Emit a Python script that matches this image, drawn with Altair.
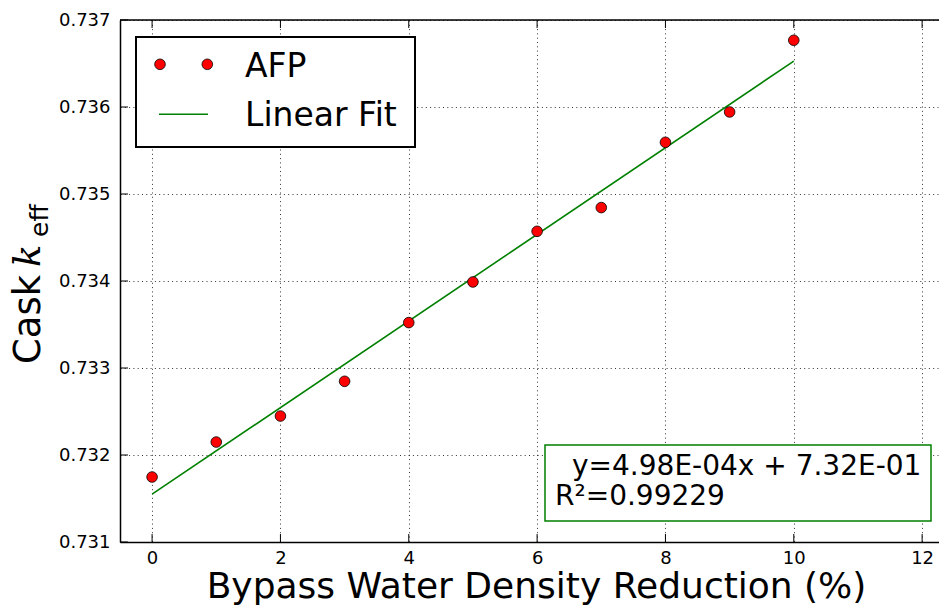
import altair as alt
import pandas as pd

# ---- data ----
density_reduction = [0, 1, 2, 3, 4, 5, 6, 7, 8, 9, 10]
cask_keff = [0.731747, 0.732149, 0.732448, 0.732847, 0.733522, 0.733989,
             0.734571, 0.734844, 0.735594, 0.735943, 0.736767]
x_ticks = [0, 2, 4, 6, 8, 10, 12]
y_ticks = [0.731, 0.732, 0.733, 0.734, 0.735, 0.736, 0.737]
legend_labels = ["AFP", "Linear Fit"]
fit_text = ["y=4.98E-04x + 7.32E-01", "R²=0.99229"]
x_title = "Bypass Water Density Reduction (%)"

df = pd.DataFrame({"x": density_reduction, "y": cask_keff})
xt = pd.DataFrame({"x": x_ticks})
yt = pd.DataFrame({"y": y_ticks})
one = pd.DataFrame({"a": [0]})

W, H = 819, 522
FONT = "DejaVu Sans"
RED = "#ff0000"
GREEN = "#008000"

xscale = alt.Scale(domain=[-0.5, 12.263], nice=False, zero=False)
yscale = alt.Scale(domain=[0.731, 0.737], nice=False, zero=False)

xaxis = alt.Axis(values=x_ticks, title=None,
                 grid=True, gridColor="#000", gridDash=[1, 3.3], gridWidth=1, gridOpacity=0.8,
                 domain=True, domainColor="#000", domainWidth=1.5,
                 ticks=False, labelFont=FONT, labelFontSize=18, labelColor="#000",
                 labelPadding=7, labelFlush=False)
yaxis = alt.Axis(values=y_ticks, format=".3f", title=None,
                 grid=True, gridColor="#000", gridDash=[1, 3.3], gridWidth=1, gridOpacity=0.8,
                 domain=True, domainColor="#000", domainWidth=1.5,
                 ticks=False, labelFont=FONT, labelFontSize=18, labelColor="#000",
                 labelPadding=10, labelFlush=False)

X = alt.X("x:Q", scale=xscale, axis=xaxis)
Y = alt.Y("y:Q", scale=yscale, axis=yaxis)

fit_line = alt.Chart(df).transform_regression("x", "y").mark_line(
    color=GREEN, strokeWidth=1.6).encode(x=X, y=Y)

points = alt.Chart(df).mark_point(
    shape="circle", filled=True, fill=RED, stroke="#000", strokeWidth=0.8,
    size=113, opacity=1).encode(x=X, y=Y)

# inward ticks and top spine
bottom_ticks = alt.Chart(xt).mark_rule(color="#000", strokeWidth=1).encode(
    x=X, y=alt.value(H), y2=alt.value(H - 8))
top_ticks = alt.Chart(xt).mark_rule(color="#000", strokeWidth=1).encode(
    x=X, y=alt.value(0), y2=alt.value(8))
left_ticks = alt.Chart(yt).mark_rule(color="#000", strokeWidth=1).encode(
    y=Y, x=alt.value(0), x2=alt.value(8))
top_spine = alt.Chart(one).mark_rule(color="#000", strokeWidth=1.5).encode(
    x=alt.value(0), x2=alt.value(W), y=alt.value(0))

# legend box
leg_box = alt.Chart(one).mark_rect(fill="white", stroke="#000", strokeWidth=2).encode(
    x=alt.value(16), x2=alt.value(295), y=alt.value(17), y2=alt.value(127))
leg_pts = alt.Chart(pd.DataFrame({"px": [40, 87.3]})).mark_point(
    shape="circle", filled=True, fill=RED, stroke="#000", strokeWidth=0.8,
    size=113, opacity=1).encode(x=alt.X("px:Q", scale=None), y=alt.value(44.3))
leg_line = alt.Chart(one).mark_rule(color=GREEN, strokeWidth=1.6).encode(
    x=alt.value(39), x2=alt.value(88), y=alt.value(94.3))
leg_text = alt.Chart(pd.DataFrame({"t": legend_labels, "py": [56.7, 105.7]})).mark_text(
    font=FONT, fontSize=33, align="left", baseline="alphabetic", color="#000").encode(
    x=alt.value(125), y=alt.Y("py:Q", scale=None), text="t:N")

# fit annotation box
fit_box = alt.Chart(one).mark_rect(fill="white", stroke=GREEN, strokeWidth=1.5).encode(
    x=alt.value(425), x2=alt.value(811), y=alt.value(425), y2=alt.value(501))
fit_txt = alt.Chart(pd.DataFrame({"t": fit_text, "px": [452, 435], "py": [455, 485]})).mark_text(
    font=FONT, fontSize=28, align="left", baseline="alphabetic", color="#000").encode(
    x=alt.X("px:Q", scale=None), y=alt.Y("py:Q", scale=None), text="t:N")

# x title
xt_text = alt.Chart(one).mark_text(text=x_title, font=FONT, fontSize=36, align="center",
                                   baseline="alphabetic", color="#000").encode(
    x=alt.value(416.5), y=alt.value(H + 56))

# y title: Cask k_eff
yt_cask = alt.Chart(one).mark_text(text="Cask", font=FONT, fontSize=37, angle=270,
                                   align="left", baseline="alphabetic", color="#000").encode(
    x=alt.value(-80), y=alt.value(344))
yt_k = alt.Chart(one).mark_text(text="k", font="DejaVu Serif", fontStyle="italic",
                                fontSize=37, angle=270, align="left",
                                baseline="alphabetic", color="#000").encode(
    x=alt.value(-80), y=alt.value(247))
yt_eff = alt.Chart(one).mark_text(text="eff", font=FONT, fontSize=25, angle=270,
                                  align="left", baseline="alphabetic", color="#000").encode(
    x=alt.value(-72), y=alt.value(217))

chart = alt.layer(
    fit_line, points, bottom_ticks, top_ticks, left_ticks, top_spine,
    leg_box, leg_pts, leg_line, leg_text, fit_box, fit_txt, xt_text,
    yt_cask, yt_k, yt_eff
).properties(
    width=W, height=H,
    autosize=alt.AutoSizeParams(type="none"),
    padding={"left": 112, "top": 12, "right": 0, "bottom": 64},
).configure_view(stroke=None).configure(background="white")

chart.save("out.html", embed_options={"renderer": "svg", "actions": False})
